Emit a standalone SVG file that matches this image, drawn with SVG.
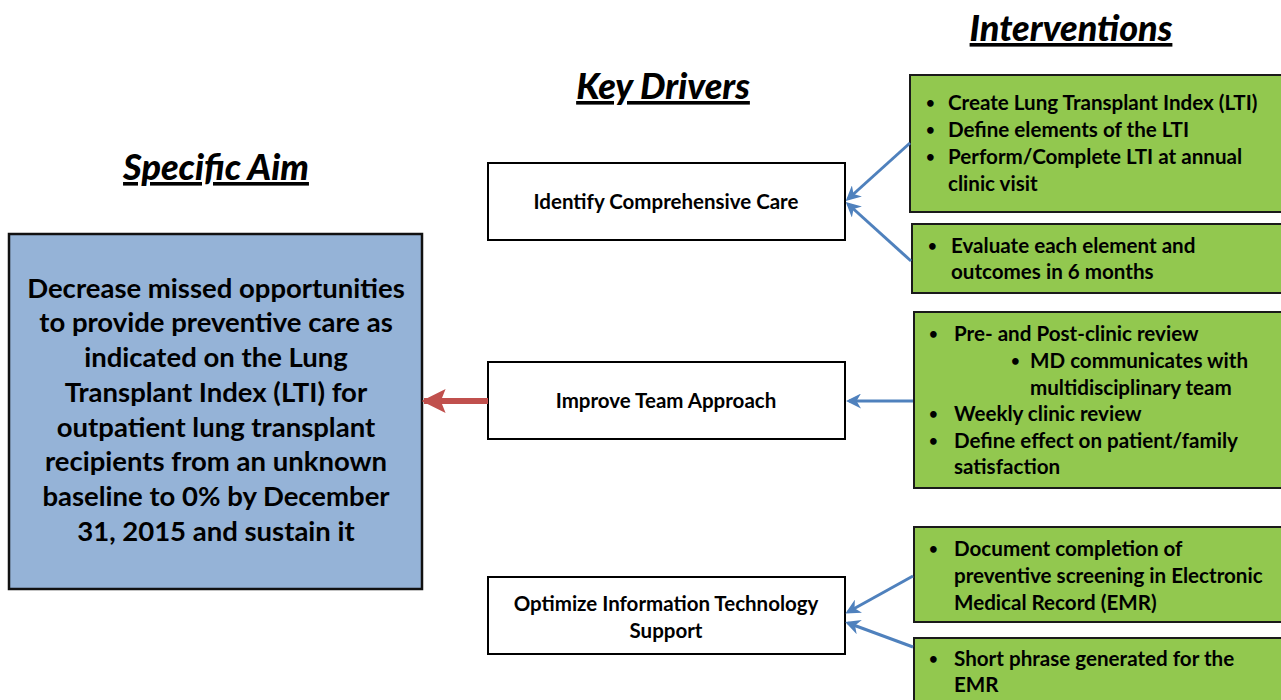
<svg xmlns="http://www.w3.org/2000/svg" width="1281" height="700" viewBox="0 0 1281 700">
  <defs>
    <style>
      text { font-family: Lato, "Open Sans", "Liberation Sans", sans-serif; font-weight: bold; fill: #000; }
      .title { font-size: 36px; font-style: italic; text-decoration: underline; text-anchor: middle; font-weight: 900; }
      .aim { font-size: 27.5px; text-anchor: middle; }
      .drv { font-size: 20.5px; text-anchor: middle; }
      .int { font-size: 20.6px; }
      .dot { font-size: 15px; }
      .box { fill: #ffffff; stroke: #000; stroke-width: 2; }
      .green { fill: #92c84f; stroke: #1a1a1a; stroke-width: 2; }
      .blue { stroke: #4f81bd; stroke-width: 3; fill: none; }
    </style>
    <marker id="bluehead" viewBox="0 0 10 10" refX="8" refY="5" markerWidth="5" markerHeight="5" orient="auto-start-reverse" markerUnits="strokeWidth">
      <path d="M0,0 L10,5 L0,10 L3,5 Z" fill="#4f81bd"/>
    </marker>
    <marker id="redhead" viewBox="0 0 10 10" refX="9" refY="5" markerWidth="4" markerHeight="4" orient="auto" markerUnits="strokeWidth">
      <path d="M0,0 L10,5 L0,10 L2,5 Z" fill="#c0504d"/>
    </marker>
  </defs>

  <rect width="1281" height="700" fill="#ffffff"/>

  <!-- column headings -->
  <text class="title" x="216" y="180">Specific Aim</text>
  <text class="title" x="663" y="99">Key Drivers</text>
  <text class="title" x="1071" y="41">Interventions</text>

  <!-- aim -->
  <g id="aim">
    <rect x="9" y="234" width="413" height="355" fill="#95b3d7" stroke="#111" stroke-width="2.5"/>
    <text class="aim" x="216" y="298">Decrease missed opportunities</text>
    <text class="aim" x="216" y="332">to provide preventive care as</text>
    <text class="aim" x="216" y="367">indicated on the Lung</text>
    <text class="aim" x="216" y="402">Transplant Index (LTI) for</text>
    <text class="aim" x="216" y="437">outpatient lung transplant</text>
    <text class="aim" x="216" y="471">recipients from an unknown</text>
    <text class="aim" x="216" y="506">baseline to 0% by December</text>
    <text class="aim" x="216" y="541">31, 2015 and sustain it</text>
  </g>

  <!-- key drivers -->
  <g id="driver-care">
    <rect class="box" x="488" y="163" width="357" height="77"/>
    <text class="drv" x="666" y="209">Identify Comprehensive Care</text>
  </g>
  <g id="driver-team">
    <rect class="box" x="488" y="362" width="357" height="77"/>
    <text class="drv" x="666" y="408">Improve Team Approach</text>
  </g>
  <g id="driver-it">
    <rect class="box" x="488" y="577" width="357" height="77"/>
    <text class="drv" x="666" y="611">Optimize Information Technology</text>
    <text class="drv" x="666" y="638">Support</text>
  </g>

  <!-- interventions -->
  <g id="int-lti">
    <rect class="green" x="910" y="75" width="380" height="137"/>
    <text class="int dot" x="926" y="108">•</text>
    <text class="int" x="948" y="110">Create Lung Transplant Index (LTI)</text>
    <text class="int dot" x="926" y="135">•</text>
    <text class="int" x="948" y="137">Define elements of the LTI</text>
    <text class="int dot" x="926" y="162">•</text>
    <text class="int" x="948" y="164">Perform/Complete LTI at annual</text>
    <text class="int" x="948" y="191">clinic visit</text>
  </g>
  <g id="int-evaluate">
    <rect class="green" x="912" y="224" width="378" height="69"/>
    <text class="int dot" x="928" y="251">•</text>
    <text class="int" x="951" y="253">Evaluate each element and</text>
    <text class="int" x="951" y="279">outcomes in 6 months</text>
  </g>
  <g id="int-review">
    <rect class="green" x="914" y="312" width="376" height="176"/>
    <text class="int dot" x="929" y="339">•</text>
    <text class="int" x="954" y="341">Pre- and Post-clinic review</text>
    <text class="int dot" x="1011" y="366">•</text>
    <text class="int" x="1030" y="368">MD communicates with</text>
    <text class="int" x="1030" y="395">multidisciplinary team</text>
    <text class="int dot" x="929" y="419">•</text>
    <text class="int" x="954" y="421">Weekly clinic review</text>
    <text class="int dot" x="929" y="446">•</text>
    <text class="int" x="954" y="448">Define effect on patient/family</text>
    <text class="int" x="954" y="474">satisfaction</text>
  </g>
  <g id="int-emr">
    <rect class="green" x="914" y="527" width="376" height="95"/>
    <text class="int dot" x="929" y="554">•</text>
    <text class="int" x="954" y="556">Document completion of</text>
    <text class="int" x="954" y="583">preventive screening in Electronic</text>
    <text class="int" x="954" y="610">Medical Record (EMR)</text>
  </g>
  <g id="int-phrase">
    <rect class="green" x="914" y="638" width="376" height="70"/>
    <text class="int dot" x="929" y="664">•</text>
    <text class="int" x="954" y="666">Short phrase generated for the</text>
    <text class="int" x="954" y="692">EMR</text>
  </g>

  <!-- connectors -->
  <g id="connectors">
    <line class="blue" x1="910" y1="143" x2="848" y2="199" marker-end="url(#bluehead)"/>
    <line class="blue" x1="911" y1="261" x2="848" y2="204" marker-end="url(#bluehead)"/>
    <line class="blue" x1="913" y1="401" x2="849" y2="401" marker-end="url(#bluehead)"/>
    <line class="blue" x1="913" y1="576" x2="848" y2="612" marker-end="url(#bluehead)"/>
    <line class="blue" x1="913" y1="647" x2="848" y2="623" marker-end="url(#bluehead)"/>
    <line x1="488" y1="401" x2="424" y2="401" stroke="#c0504d" stroke-width="6" marker-end="url(#redhead)"/>
  </g>
</svg>
